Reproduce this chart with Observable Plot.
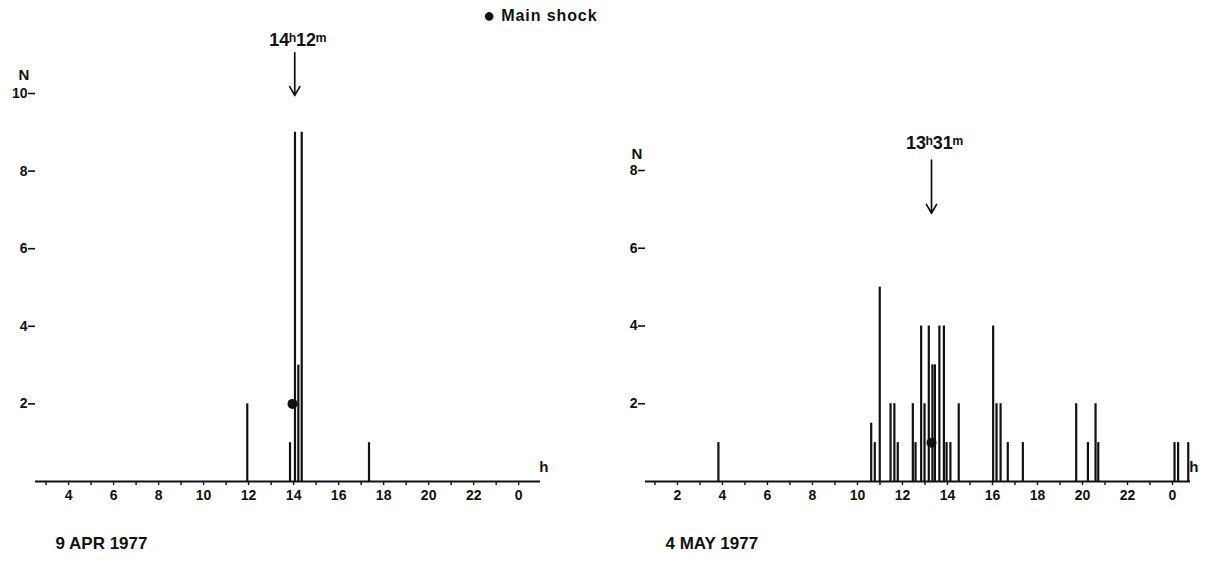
<!DOCTYPE html>
<html>
<head>
<meta charset="utf-8">
<script src="https://cdn.jsdelivr.net/npm/d3@7"></script>
<script src="https://cdn.jsdelivr.net/npm/@observablehq/plot@0.6"></script>
<style>
  html, body { margin: 0; padding: 0; background: #fff; }
  #wrap { position: relative; width: 1207px; height: 562px; display: flex; }
  #wrap svg { overflow: visible; }
  #legend { position: absolute; left: 483px; top: 7px; font: 600 16px "Liberation Sans", Arial, sans-serif; letter-spacing: 0.9px; color: #111; }
  #legend span { font-size: 20px; line-height: 16px; vertical-align: -1px; margin-right: 0px; }
</style>
</head>
<body>
<div id="wrap">
  <div id="legend"><span>●</span> Main shock</div>
</div>
<script>
// ---- 9 APR 1977 ----
const aprHours  = [11.94, 13.84, 14.06, 14.21, 14.36, 17.35];
const aprCounts = [2, 1, 9, 3, 9, 1];
const aprShock  = [{hour: 13.95, n: 2}];
const aprTickHours  = [3,4,5,6,7,8,9,10,11,12,13,14,15,16,17,18,19,20,21,22,23,24];
const aprLabelHours = [4,6,8,10,12,14,16,18,20,22,24];
const aprLabels     = ["4","6","8","10","12","14","16","18","20","22","0"];
const aprYTicks = [2,4,6,8,10];
const aprArrow = [{hour: 14.05, from: 11.05, to: 9.95, labelY: 11.37, label: "14ʰ12ᵐ"}];

// ---- 4 MAY 1977 ----
const mayHours  = [3.82, 10.61, 10.77, 10.99, 11.47, 11.64, 11.79, 12.46, 12.58, 12.83, 12.98, 13.17,
                   13.33, 13.44, 13.64, 13.84, 13.96, 14.13, 14.50, 16.03, 16.18, 16.36, 16.68, 17.35,
                   19.72, 20.24, 20.58, 20.70, 24.09, 24.25, 24.70];
const mayCounts = [1, 1.5, 1, 5, 2, 2, 1, 2, 1, 4, 2, 4,
                   3, 3, 4, 4, 1, 1, 2, 4, 2, 2, 1, 1,
                   2, 1, 2, 1, 1, 1, 1];
const mayShock  = [{hour: 13.29, n: 1}];
const mayTickHours  = [1,2,3,4,5,6,7,8,9,10,11,12,13,14,15,16,17,18,19,20,21,22,23,24];
const mayLabelHours = [2,4,6,8,10,12,14,16,18,20,22,24];
const mayLabels     = ["2","4","6","8","10","12","14","16","18","20","22","0"];
const mayYTicks = [2,4,6,8];
const mayArrow = [{hour: 13.29, from: 8.27, to: 6.9, labelY: 8.71, label: "13ʰ31ᵐ"}];

const FONT = '"Liberation Sans", Arial, sans-serif';

function panel({width, marginLeft, marginRight, marginTop, xDomain, yDomain, hours, counts, shock,
                tickHours, labelHours, labels, yTicks, arrow, date, nDx, nDy}) {
  const bars = hours.map((h, i) => ({hour: h, n: counts[i]}));
  const labelMap = new Map(labelHours.map((h, i) => [h, labels[i]]));
  return Plot.plot({
    width, height: 562,
    marginLeft, marginRight, marginTop, marginBottom: 81,
    x: {domain: xDomain},
    y: {domain: yDomain},
    style: {fontFamily: FONT, color: "#111", background: "transparent", overflow: "visible"},
    marks: [
      Plot.axisY({ticks: yTicks, tickSize: 7, tickPadding: 1, label: null,
                  fontSize: 14, fontWeight: "bold", strokeWidth: 1.6}),
      Plot.axisX({ticks: tickHours, tickSize: 4, tickPadding: 5, label: null,
                  tickFormat: d => labelMap.get(d) ?? "",
                  fontSize: 14, fontWeight: "bold", strokeWidth: 1.4}),
      Plot.ruleY([0], {strokeWidth: 1.8}),
      Plot.ruleX(bars, {x: "hour", y1: 0, y2: "n", stroke: "#111", strokeWidth: 2.2}),
      Plot.dot(shock, {x: "hour", y: "n", r: 5, fill: "#111", stroke: null}),
      Plot.arrow(arrow, {x1: "hour", x2: "hour", y1: "from", y2: "to", headLength: 9,
                         strokeWidth: 1.7, stroke: "#111"}),
      Plot.text(arrow, {x: "hour", y: "labelY", text: "label", dx: 3, fontSize: 18, fontWeight: "600"}),
      Plot.text(["N"], {frameAnchor: "top-left", dx: nDx, dy: nDy, fontSize: 15, fontWeight: "bold"}),
      Plot.text(["h"], {frameAnchor: "bottom-right", dx: 8, dy: -10, fontSize: 15, fontWeight: "bold"}),
      Plot.text([date], {frameAnchor: "bottom-left", dx: 20, dy: 67, textAnchor: "start",
                         fontSize: 17, fontWeight: "600"})
    ]
  });
}

const wrap = document.getElementById("wrap");
wrap.appendChild(panel({
  width: 600, marginLeft: 35, marginRight: 60, marginTop: 93,
  xDomain: [2.53, 24.97], yDomain: [0, 10],
  hours: aprHours, counts: aprCounts, shock: aprShock,
  tickHours: aprTickHours, labelHours: aprLabelHours, labels: aprLabels,
  yTicks: aprYTicks, arrow: aprArrow, date: "9 APR 1977", nDx: -17, nDy: -24
}));
wrap.appendChild(panel({
  width: 607, marginLeft: 45, marginRight: 17, marginTop: 170,
  xDomain: [0.58, 24.8], yDomain: [0, 8],
  hours: mayHours, counts: mayCounts, shock: mayShock,
  tickHours: mayTickHours, labelHours: mayLabelHours, labels: mayLabels,
  yTicks: mayYTicks, arrow: mayArrow, date: "4 MAY 1977", nDx: -14, nDy: -22
}));
</script>
</body>
</html>
